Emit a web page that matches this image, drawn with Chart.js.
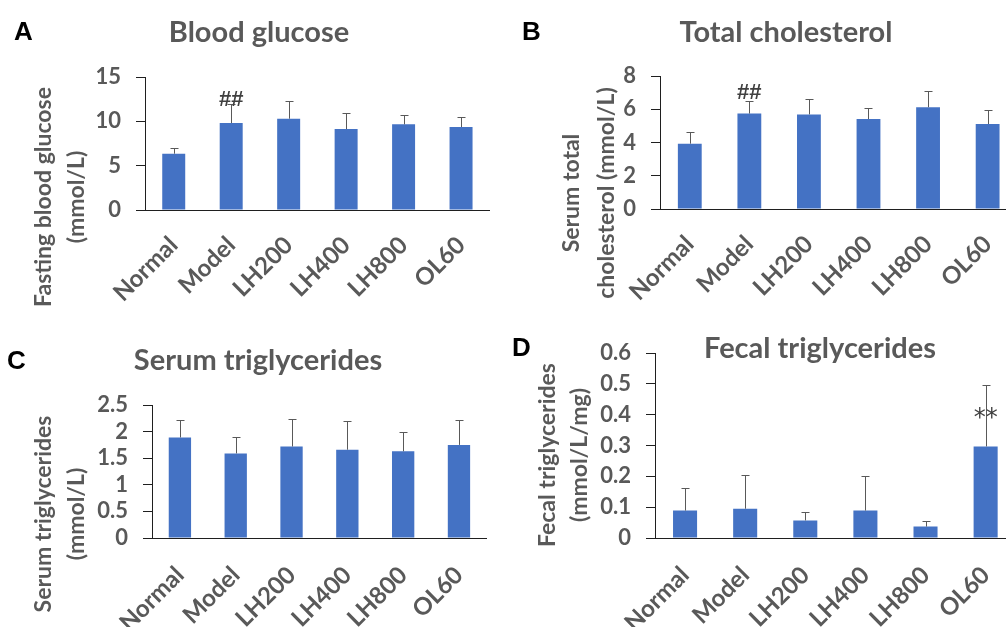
<!DOCTYPE html>
<html>
<head>
<meta charset="utf-8">
<title>Blood glucose and lipid measurements</title>
<script src="https://cdn.jsdelivr.net/npm/chart.js@4.4.1/dist/chart.umd.min.js"></script>
<style>
  html, body { margin: 0; padding: 0; background: #ffffff; overflow: hidden; }
  #fig { position: relative; width: 1006px; height: 627px; overflow: hidden; background: #ffffff; }
  #fig canvas { position: absolute; }
</style>
</head>
<body>
<div id="fig">
  <canvas id="panelA" width="503" height="313" style="left:0;top:0"></canvas>
  <canvas id="panelB" width="527" height="313" style="left:503px;top:0"></canvas>
  <canvas id="panelC" width="503" height="314" style="left:0;top:313px"></canvas>
  <canvas id="panelD" width="527" height="314" style="left:503px;top:313px"></canvas>
</div>
<script>
// Treatment groups shared by all four panels
const groups = ['Normal', 'Model', 'LH200', 'LH400', 'LH800', 'OL60'];

// A: fasting blood glucose (mmol/L), mean and SD
const glucoseMean = [6.35, 9.81, 10.3, 9.13, 9.66, 9.36];
const glucoseSD   = [0.68, 2.10, 2.00, 1.77, 1.04, 1.14];
const glucoseMarks = ['', '##', '', '', '', ''];
const glucoseTicks = [0, 15, 5];          // min, max, step

// B: serum total cholesterol (mmol/L)
const cholMean = [3.93, 5.74, 5.69, 5.41, 6.12, 5.11];
const cholSD   = [0.68, 0.74, 0.95, 0.69, 1.00, 0.82];
const cholMarks = ['', '##', '', '', '', ''];
const cholTicks = [0, 8, 2];

// C: serum triglycerides (mmol/L)
const serumTgMean = [1.89, 1.59, 1.72, 1.66, 1.63, 1.75];
const serumTgSD   = [0.33, 0.30, 0.51, 0.53, 0.36, 0.47];
const serumTgMarks = ['', '', '', '', '', ''];
const serumTgTicks = [0, 2.5, 0.5];

// D: fecal triglycerides (mmol/L/mg)
const fecalTgMean = [0.089, 0.095, 0.057, 0.089, 0.037, 0.297];
const fecalTgSD   = [0.073, 0.108, 0.028, 0.113, 0.019, 0.199];
const fecalTgMarks = ['', '', '', '', '', '**'];
const fecalTgTicks = [0, 0.6, 0.1];

const BAR_BLUE = '#4472C4';
const TEXT_GREY = '#595959';
const AXIS_COLOR = '#1f1f1f';
const FONT = 'Lato, "Open Sans", sans-serif';

// Error bars (mean + SD, capped) and significance marks above the bars
const errorBarPlugin = {
  id: 'errorBars',
  afterDatasetsDraw(chart) {
    const cfg = chart.options.plugins.panel;
    const ctx = chart.ctx;
    const yScale = chart.scales.y;
    const meta = chart.getDatasetMeta(0);
    const means = chart.data.datasets[0].data;
    ctx.save();
    ctx.strokeStyle = TEXT_GREY;
    ctx.lineWidth = 1;
    meta.data.forEach((bar, i) => {
      const x = Math.round(bar.x) + 0.5;
      const base = yScale.getPixelForValue(means[i]);
      const top = Math.round(yScale.getPixelForValue(means[i] + cfg.sd[i])) + 0.5;
      ctx.beginPath();
      ctx.moveTo(x, base);
      ctx.lineTo(x, top);
      ctx.moveTo(x - 4, top);
      ctx.lineTo(x + 4, top);
      ctx.stroke();
    });
    ctx.fillStyle = '#404040';
    ctx.font = cfg.markFont;
    ctx.textAlign = 'center';
    ctx.textBaseline = 'middle';
    meta.data.forEach((bar, i) => {
      const mark = cfg.marks[i];
      if (!mark) return;
      const barTop = yScale.getPixelForValue(means[i]);
      ctx.fillText(mark, bar.x, barTop - cfg.markOffset);
    });
    ctx.restore();
  }
};

// Panel letter, chart title and the two-line y-axis title
const panelTextPlugin = {
  id: 'panelText',
  afterDraw(chart) {
    const cfg = chart.options.plugins.panel;
    const ctx = chart.ctx;
    ctx.save();
    ctx.fillStyle = '#000000';
    ctx.font = 'bold 26px "Liberation Sans", Arial, sans-serif';
    ctx.textAlign = 'left';
    ctx.textBaseline = 'alphabetic';
    ctx.fillText(cfg.letter, cfg.letterAt[0], cfg.letterAt[1]);

    ctx.fillStyle = TEXT_GREY;
    ctx.font = 'bold 29px ' + FONT;
    ctx.textAlign = 'center';
    ctx.textBaseline = 'middle';
    ctx.fillText(cfg.title, cfg.titleAt[0], cfg.titleAt[1]);

    ctx.font = 'bold 23px ' + FONT;
    cfg.yTitle.forEach((line, k) => {
      ctx.save();
      ctx.translate(cfg.yTitleX[k], cfg.yTitleY);
      ctx.rotate(-Math.PI / 2);
      ctx.fillText(line, 0, 0);
      ctx.restore();
    });
    ctx.restore();
  }
};

function makePanel(canvasId, means, ticks, area, panel, tickFmt) {
  const canvas = document.getElementById(canvasId);
  const W = canvas.width, H = canvas.height;
  return new Chart(canvas, {
    type: 'bar',
    data: {
      labels: groups,
      datasets: [{
        data: means,
        backgroundColor: BAR_BLUE,
        borderWidth: 0,
        categoryPercentage: 1.0,
        barPercentage: 0.4
      }]
    },
    options: {
      responsive: false,
      devicePixelRatio: 1,
      animation: false,
      events: [],
      layout: {
        padding: { left: 0, top: area.top, right: W - area.right, bottom: 0 }
      },
      plugins: {
        legend: { display: false },
        tooltip: { enabled: false },
        title: { display: false },
        panel: panel
      },
      scales: {
        x: {
          grid: { display: false, drawTicks: false },
          border: { display: true, color: AXIS_COLOR, width: 1 },
          ticks: {
            color: TEXT_GREY,
            font: { family: FONT, size: 24, weight: 'bold' },
            maxRotation: 45,
            minRotation: 45,
            padding: area.labelPad,
            autoSkip: false
          },
          afterFit(scale) { scale.height = H - area.bottom; }
        },
        y: {
          min: ticks[0],
          max: ticks[1],
          grid: {
            drawOnChartArea: false,
            drawTicks: true,
            tickLength: 9,
            color: AXIS_COLOR
          },
          border: { display: true, color: AXIS_COLOR, width: 1 },
          ticks: {
            stepSize: ticks[2],
            autoSkip: false,
            color: TEXT_GREY,
            font: { family: FONT, size: 22, weight: 'bold' },
            padding: 15,
            callback: tickFmt
          },
          afterFit(scale) { scale.width = area.left; }
        }
      }
    },
    plugins: [errorBarPlugin, panelTextPlugin]
  });
}

const intFmt = v => String(v);
const oneDec = v => (v === 0 ? '0' : Number(v).toFixed(1));

makePanel('panelA', glucoseMean, glucoseTicks,
  { left: 145, top: 77, right: 496, bottom: 210, labelPad: 21 },
  { letter: 'A', letterAt: [14, 40], title: 'Blood glucose', titleAt: [259, 33],
    yTitle: ['Fasting blood glucose', '(mmol/L)'], yTitleX: [44, 77], yTitleY: 197,
    sd: glucoseSD, marks: glucoseMarks, markOffset: 23, markFont: 'bold 22px "Liberation Sans", Arial, sans-serif' },
  intFmt);

makePanel('panelB', cholMean, cholTicks,
  { left: 157, top: 76, right: 515, bottom: 209, labelPad: 21 },
  { letter: 'B', letterAt: [19, 40], title: 'Total cholesterol', titleAt: [283, 33],
    yTitle: ['Serum total', 'cholesterol (mmol/L)'], yTitleX: [69, 104], yTitleY: 193,
    sd: cholSD, marks: cholMarks, markOffset: 21, markFont: 'bold 22px "Liberation Sans", Arial, sans-serif' },
  intFmt);

makePanel('panelC', serumTgMean, serumTgTicks,
  { left: 152, top: 92, right: 495, bottom: 225, labelPad: 23 },
  { letter: 'C', letterAt: [7, 56], title: 'Serum triglycerides', titleAt: [258, 48],
    yTitle: ['Serum triglycerides', '(mmol/L)'], yTitleX: [44, 77], yTitleY: 201,
    sd: serumTgSD, marks: serumTgMarks, markOffset: 23, markFont: 'bold 22px "Liberation Sans", Arial, sans-serif' },
  v => String(v));

makePanel('panelD', fecalTgMean, fecalTgTicks,
  { left: 152, top: 40, right: 515, bottom: 225, labelPad: 23 },
  { letter: 'D', letterAt: [9, 43], title: 'Fecal triglycerides', titleAt: [317, 36],
    yTitle: ['Fecal triglycerides', '(mmol/L/mg)'], yTitleX: [45, 77], yTitleY: 142,
    sd: fecalTgSD, marks: fecalTgMarks, markOffset: 28, markFont: '24px "DejaVu Sans", sans-serif' },
  oneDec);
</script>
</body>
</html>
